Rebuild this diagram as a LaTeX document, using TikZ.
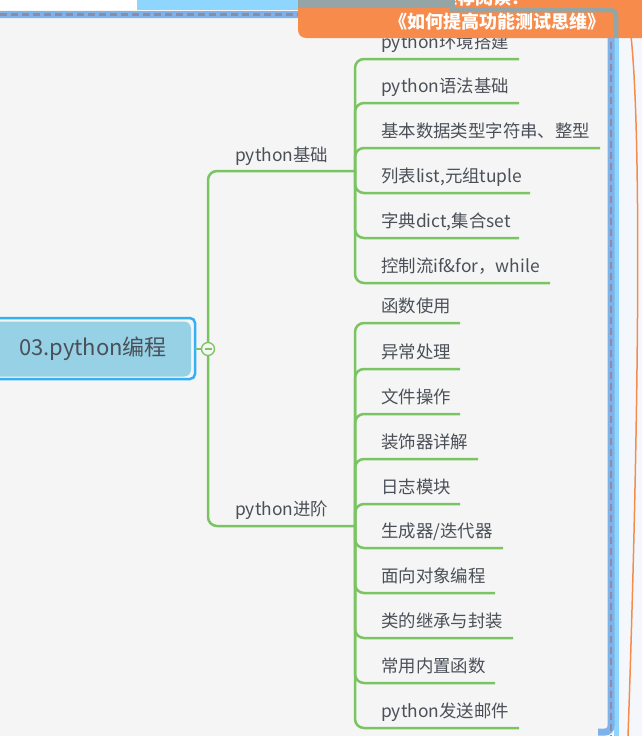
\documentclass[tikz,border=0pt]{standalone}
\usepackage{fontspec}
\setmainfont{Noto Sans CJK SC}
\definecolor{bgpanel}{RGB}{245,245,245}
\definecolor{bgright}{RGB}{244,248,253}
\definecolor{greenc}{RGB}{122,197,98}
\definecolor{textc}{RGB}{75,80,88}
\definecolor{rootfill}{RGB}{150,209,230}
\definecolor{rootborder}{RGB}{52,177,245}
\definecolor{orangec}{RGB}{247,139,76}
\definecolor{grayc}{RGB}{149,165,166}
\definecolor{bandblue}{RGB}{125,178,235}
\definecolor{bandlight}{RGB}{143,214,255}
\definecolor{dashgray}{RGB}{140,140,165}
\tikzset{
  conn/.style={draw=greenc, line width=2.5pt, rounded corners=9pt},
  childtext/.style={anchor=base west, inner sep=0pt, text=textc, font=\fontsize{17.4}{20}\selectfont},
  branchtext/.style={anchor=base west, inner sep=0pt, text=textc, font=\fontsize{17.4}{20}\selectfont},
}
\begin{document}
\begin{tikzpicture}[x=1pt,y=-1pt]
\useasboundingbox (0,0) rectangle (642,736);
% backgrounds
\fill[bgright] (0,0) rectangle (642,736);
\fill[bgpanel] (0,10) rectangle (610,736);
\fill[white] (0,0) rectangle (137,10);
\fill[bandlight] (137,0) rectangle (298,10);
% panel border
\draw[bandlight, line width=5pt] (616,14) -- (616,736);
\draw[bandblue, line width=7pt, rounded corners=6pt] (-5,14.5) -- (611,14.5) -- (611,732) -- (598,732);
\draw[dashgray, line width=2.2pt, dash pattern=on 7pt off 4pt] (0,14.5) -- (611,14.5) -- (611,736);
% orange curve on the right
\draw[orangec, line width=1.5pt] (631,36) .. controls (643,150) and (637,480) .. (628,736);

% root node
\node[fill=rootfill, rounded corners=7pt, minimum width=202pt, minimum height=55pt, inner sep=0pt] (rootbox) at (90,349) {};
\node[text=textc, font=\fontsize{22}{24}\selectfont, inner sep=0pt] (root) at (93,349) {03.python编程};
\draw[rootborder, line width=2.5pt, rounded corners=5pt] (-10,318) rectangle (195,379);
\node[circle, draw=greenc, line width=1.3pt, fill=bgpanel, minimum size=13pt, inner sep=0pt] (circ) at (208,349) {};
\draw[greenc, line width=1.3pt] ([xshift=-3.5pt]circ.center) -- ([xshift=3.5pt]circ.center);
\draw[conn] (195,349) -- (circ.west);

% branches
\coordinate (bA) at (355,171);
\coordinate (bB) at (355,526);
\draw[conn] (circ.north) |- (bA);
\draw[conn] (circ.south) |- (bB);
\node[branchtext] (lA) at (235,161) {python基础};
\node[branchtext] (lB) at (235,515.5) {python进阶};

% basics children
\foreach \uy/\xe/\t [count=\i] in {
  59/519/{python环境搭建},
  103/519/{python语法基础},
  148/600/{基本数据类型字符串、整型},
  193/530/{列表list,元组tuple},
  238/519/{字典dict,集合set},
  283/550/{控制流if\&for，while}}{
  \coordinate (ea\i) at (\xe,\uy);
  \node[childtext] (ta\i) at (381,\uy-10.5) {\t};
  \draw[conn] (bA) |- (ea\i);
}
% advanced children
\foreach \uy/\xe/\t [count=\i] in {
  323/460/{函数使用},
  369/460/{异常处理},
  414/460/{文件操作},
  459/478/{装饰器详解},
  504/460/{日志模块},
  548/503/{生成器/迭代器},
  593/495/{面向对象编程},
  638/513/{类的继承与封装},
  683/495/{常用内置函数},
  728/519/{python发送邮件}}{
  \coordinate (eb\i) at (\xe,\uy);
  \node[childtext] (tb\i) at (381,\uy-10.5) {\t};
  \draw[conn] (bB) |- (eb\i);
}

% orange banner
\fill[orangec, rounded corners=8pt] (298,-12) -- (298,38) -- (660,38) -- (660,-12) -- cycle;
\node[text=white, font=\fontsize{18}{20}\selectfont\bfseries, inner sep=0pt, anchor=east] (rec) at (530,-2) {推荐阅读：};
\fill[grayc] (298,-1) rectangle (455,8);
\draw[grayc, line width=4.5pt, rounded corners=5pt] (450,10) -- (616,10) -- (616,38);
\node[text=white, font=\fontsize{18}{20}\selectfont\bfseries, inner sep=0pt] (title) at (497,22) {《如何提高功能测试思维》};
\end{tikzpicture}
\end{document}
